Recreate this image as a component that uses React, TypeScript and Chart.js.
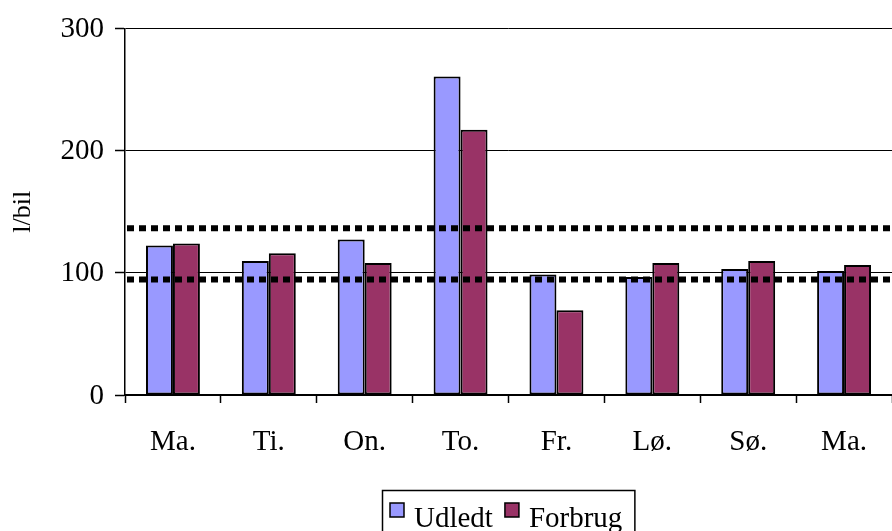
import React, { useEffect, useRef } from 'react';
import { Chart, registerables } from 'chart.js';

Chart.register(...registerables);

const categories = ['Ma.', 'Ti.', 'On.', 'To.', 'Fr.', 'Lø.', 'Sø.', 'Ma.'];
const udledt = [122.4, 109.6, 127.3, 260.7, 98.6, 96.5, 103.1, 101.5];
const forbrug = [124.0, 116.0, 108.0, 217.0, 69.4, 108.0, 109.6, 106.4];
const levelLines = [136.4, 94.6];
const seriesLabels = ['Udledt', 'Forbrug'];
const yAxisTitle = 'l/bil';
const yMin = 0;
const yMax = 300;
const yStep = 100;

const FONT = "'Liberation Serif', 'Times New Roman', Times, serif";

const levelLinePlugin = {
  id: 'levelLines',
  afterDatasetsDraw(chart: any) {
    const ctx = chart.ctx as CanvasRenderingContext2D;
    const area = chart.chartArea;
    const y = chart.scales.y;
    ctx.save();
    ctx.strokeStyle = '#000';
    ctx.lineWidth = 6;
    ctx.lineCap = 'butt';
    ctx.setLineDash([7, 5]);
    levelLines.forEach((v) => {
      const py = y.getPixelForValue(v);
      ctx.beginPath();
      ctx.moveTo(area.left + 2, py);
      ctx.lineTo(area.right, py);
      ctx.stroke();
    });
    ctx.restore();
  },
};

const boxedLegend = {
  id: 'boxedLegend',
  afterDraw(chart: any) {
    const ctx = chart.ctx as CanvasRenderingContext2D;
    const area = chart.chartArea;
    const bars = chart.data.datasets;
    ctx.save();
    ctx.font = `29px ${FONT}`;
    const sq = 14, gap = 10, itemGap = 12, padL = 8, padR = 12;
    const widths = bars.map((d: any) => ctx.measureText(d.label).width);
    const total =
      padL + padR + widths.reduce((s: number, w: number) => s + sq + gap + w, 0) + itemGap * (bars.length - 1);
    const cx = (area.left + area.right) / 2;
    let x = Math.round(cx - total / 2);
    const top = chart.height - 41;
    ctx.strokeStyle = '#000';
    ctx.lineWidth = 1.5;
    ctx.strokeRect(x + 0.5, top + 0.5, total, 80);
    x += padL;
    bars.forEach((d: any, i: number) => {
      const sy = top + 13;
      ctx.fillStyle = d.backgroundColor;
      ctx.fillRect(x, sy, sq, sq);
      ctx.lineWidth = 1.5;
      ctx.strokeStyle = '#000';
      ctx.strokeRect(x, sy, sq, sq);
      x += sq + gap;
      ctx.fillStyle = '#000';
      ctx.textBaseline = 'alphabetic';
      ctx.textAlign = 'left';
      ctx.fillText(d.label, x, top + 37);
      x += widths[i] + itemGap;
    });
    ctx.restore();
  },
};

export default function App() {
  const canvasRef = useRef<HTMLCanvasElement | null>(null);

  useEffect(() => {
    document.body.style.margin = '0';
    const canvas = canvasRef.current;
    if (!canvas) return;
    const chart = new Chart(canvas, {
      type: 'bar',
      data: {
        labels: categories,
        datasets: [
          {
            label: seriesLabels[0],
            data: udledt,
            backgroundColor: '#9999FF',
            borderColor: '#000000',
            borderWidth: 2,
            borderSkipped: false,
            categoryPercentage: 0.5625,
            barPercentage: 1.0,
          } as any,
          {
            label: seriesLabels[1],
            data: forbrug,
            backgroundColor: '#993366',
            borderColor: '#000000',
            borderWidth: 2,
            borderSkipped: false,
            categoryPercentage: 0.5625,
            barPercentage: 1.0,
          } as any,
        ],
      },
      options: {
        animation: false,
        responsive: true,
        maintainAspectRatio: false,
        layout: { padding: { top: 22, left: 0, right: 0, bottom: 0 } },
        plugins: {
          legend: { display: false },
          tooltip: { enabled: false },
        },
        scales: {
          x: {
            type: 'category',
            offset: true,
            grid: {
              display: true,
              offset: true,
              drawOnChartArea: false,
              drawTicks: true,
              tickLength: 8,
              tickColor: '#000',
              tickWidth: 1.5,
            },
            border: { display: true, color: '#000', width: 2 },
            ticks: {
              color: '#000',
              font: { family: FONT, size: 29 },
              padding: 22,
              maxRotation: 0,
              autoSkip: false,
            },
            afterFit: (scale: any) => {
              scale.height = 136;
            },
          },
          y: {
            min: yMin,
            max: yMax,
            ticks: {
              stepSize: yStep,
              color: '#000',
              font: { family: FONT, size: 29 },
              padding: 11,
              labelOffset: 1,
            },
            grid: {
              color: '#000',
              lineWidth: 1,
              drawTicks: true,
              tickLength: 10,
              tickColor: '#000',
              tickWidth: 1.5,
            },
            border: { display: true, color: '#000', width: 1.5 },
            title: {
              display: true,
              text: yAxisTitle,
              color: '#000',
              font: { family: FONT, size: 26 },
              padding: { top: 8, bottom: 0 },
            },
            afterFit: (scale: any) => {
              scale.width = 125;
            },
          },
        },
      },
      plugins: [levelLinePlugin, boxedLegend],
    });
    return () => chart.destroy();
  }, []);

  return (
    <div style={{ position: 'fixed', left: 0, top: 0, width: 892, height: 531, overflow: 'hidden' }}>
      <canvas ref={canvasRef} />
    </div>
  );
}
